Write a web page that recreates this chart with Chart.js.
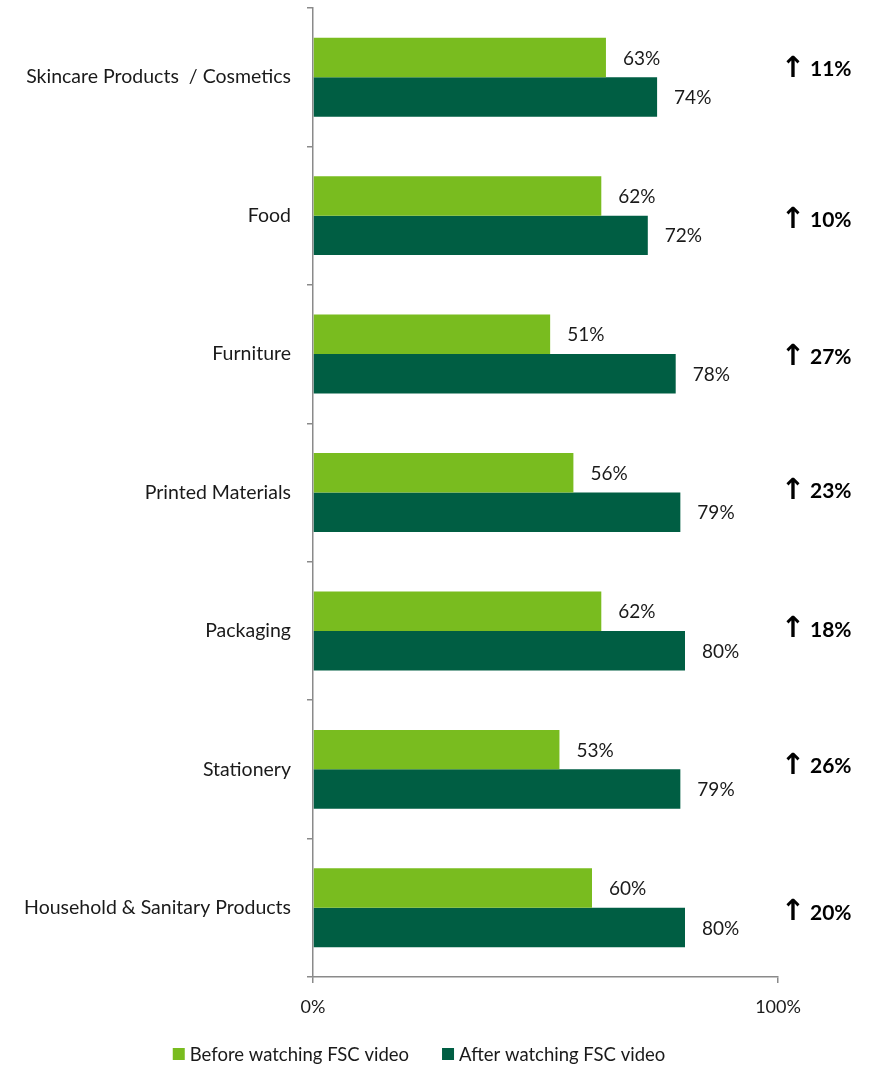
<!DOCTYPE html>
<html>
<head>
<meta charset="utf-8">
<script src="https://cdn.jsdelivr.net/npm/chart.js@4"></script>
<style>
  html, body { margin: 0; padding: 0; background: #ffffff; }
  #wrap { width: 869px; height: 1065px; position: relative; }
</style>
</head>
<body>
<div id="wrap"><canvas id="chart" width="869" height="1065"></canvas></div>
<script>
// Product categories (top to bottom)
const categories = [
  'Skincare Products  / Cosmetics',
  'Food',
  'Furniture',
  'Printed Materials',
  'Packaging',
  'Stationery',
  'Household & Sanitary Products'
];
// Share of respondents (%) before / after watching the video
const beforeValues = [63, 62, 51, 56, 62, 53, 60];
const afterValues  = [74, 72, 78, 79, 80, 79, 80];
// Increase shown at the right of each category
const increaseLabels = ['11%', '10%', '27%', '23%', '18%', '26%', '20%'];
// x-axis ticks
const xTicks = [0, 100];

const seriesNames = ['Before watching FSC video', 'After watching FSC video'];
const LIGHT = '#79bc1f';
const DARK = '#005e43';
const AXIS = '#8a8a8a';
const FONT = 'Lato, "Open Sans", sans-serif';

// small vertical nudges for the increase notes (px)
const noteNudge = [-9, 4, 2, -2, -2, -4, 4];

const valueLabels = {
  id: 'valueLabels',
  afterDatasetsDraw(chart) {
    const ctx = chart.ctx;
    ctx.save();
    ctx.font = '19px ' + FONT;
    ctx.fillStyle = '#1a1a1a';
    ctx.textAlign = 'left';
    ctx.textBaseline = 'middle';
    chart.data.datasets.forEach((ds, di) => {
      chart.getDatasetMeta(di).data.forEach((bar, i) => {
        ctx.fillText(ds.data[i] + '%', bar.x + 17, bar.y + 1);
      });
    });
    // increase notes at the right edge
    const y = chart.scales.y;
    ctx.fillStyle = '#000000';
    increaseLabels.forEach((t, i) => {
      const yc = y.getPixelForValue(i) + noteNudge[i];
      ctx.textAlign = 'center';
      ctx.font = 'bold 29px "DejaVu Sans", sans-serif';
      ctx.fillText('\u2191', 793, yc + 1);
      ctx.textAlign = 'left';
      ctx.font = 'bold 21px ' + FONT;
      ctx.fillText(t, 810, yc + 1);
    });
    ctx.restore();
  }
};

// legend drawn along the bottom edge
const bottomLegend = {
  id: 'bottomLegend',
  afterDraw(chart) {
    const ctx = chart.ctx;
    ctx.save();
    ctx.font = '18.5px ' + FONT;
    ctx.textBaseline = 'middle';
    ctx.textAlign = 'left';
    const colors = [LIGHT, DARK];
    const box = 12, gapText = 5, gapItem = 33;
    const widths = seriesNames.map(n => box + gapText + ctx.measureText(n).width);
    const total = widths[0] + gapItem + widths[1];
    let x = 419 - total / 2;
    const yc = 1054;
    seriesNames.forEach((n, i) => {
      ctx.fillStyle = colors[i];
      ctx.fillRect(x, yc - box / 2, box, box);
      ctx.fillStyle = '#1a1a1a';
      ctx.fillText(n, x + box + gapText, yc + 1);
      x += widths[i] + gapItem;
    });
    ctx.restore();
  }
};

new Chart(document.getElementById('chart'), {
  type: 'bar',
  data: {
    labels: categories,
    datasets: [
      { label: seriesNames[0], data: beforeValues, backgroundColor: LIGHT,
        categoryPercentage: 0.57, barPercentage: 1.0 },
      { label: seriesNames[1], data: afterValues, backgroundColor: DARK,
        categoryPercentage: 0.57, barPercentage: 1.0 }
    ]
  },
  options: {
    indexAxis: 'y',
    responsive: false,
    animation: false,
    devicePixelRatio: 1,
    layout: { padding: { left: 0, right: 91, top: 8, bottom: 0 } },
    plugins: {
      legend: { display: false },
      tooltip: { enabled: false }
    },
    scales: {
      x: {
        min: 0, max: 100,
        afterBuildTicks(scale) { scale.ticks = xTicks.map(v => ({ value: v })); },
        afterFit(scale) { scale.height = 88; },
        grid: { drawOnChartArea: false, drawTicks: true, tickLength: 6, color: AXIS, lineWidth: 1.5 },
        border: { display: true, color: AXIS, width: 1.5 },
        ticks: {
          padding: 13,
          color: '#1a1a1a',
          font: { family: FONT, size: 18 },
          maxRotation: 0,
          callback: v => v + '%'
        }
      },
      y: {
        offset: true,
        afterFit(scale) {
          scale.width = 313;
          scale.paddingTop = 0;
          scale.paddingBottom = 0;
        },
        grid: { offset: true, drawOnChartArea: false, drawTicks: true, tickLength: 6, color: AXIS, lineWidth: 1.5 },
        border: { display: true, color: AXIS, width: 1.5 },
        ticks: {
          padding: 16,
          color: '#1a1a1a',
          font: { family: FONT, size: 19.5 },
          autoSkip: false
        }
      }
    }
  },
  plugins: [valueLabels, bottomLegend]
});
</script>
</body>
</html>
